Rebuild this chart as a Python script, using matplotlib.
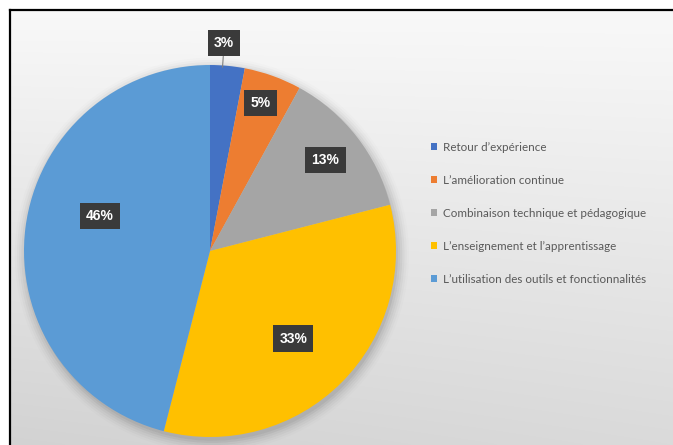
import numpy as np
import matplotlib
matplotlib.use("Agg")
import matplotlib.pyplot as plt

categories = ["Retour d\u2019expérience", "L\u2019amélioration continue",
              "Combinaison technique et pédagogique",
              "L\u2019enseignement et l\u2019apprentissage",
              "L\u2019utilisation des outils et fonctionnalités"]
values = [3, 5, 13, 33, 46]
colors = ["#4472C4", "#ED7D31", "#A5A5A5", "#FFC000", "#5B9BD5"]
label_r = [1.12, 0.84, 0.79, 0.65, 0.62]
label_shift = [1.5, 1.0, 0.5, -1.5, -10.5]   # degrees

W, H = 673, 445
fig = plt.figure(figsize=(W / 100, H / 100), dpi=100, facecolor="white")

# background gradient inside the frame
bg = fig.add_axes([10 / W, 0, 1 - 10 / W, (H - 10) / H])
yy, xx = np.mgrid[0:1:200j, 0:1:300j]
grad = 0.975 - 0.12 * yy - 0.03 * (1 - xx) * yy
bg.imshow(np.dstack([grad] * 3), aspect="auto", extent=(0, 1, 0, 1),
          origin="upper", interpolation="bilinear")
bg.axis("off")
fig.add_artist(plt.Line2D([9.5 / W, 1], [1 - 9.5 / H] * 2, color="black", lw=1.6))
fig.add_artist(plt.Line2D([9.5 / W] * 2, [0, 1 - 9.5 / H], color="black", lw=1.6))

cx, cy, R = 210, 251, 186
ax = fig.add_axes([(cx - R) / W, (H - cy - R) / H, 2 * R / W, 2 * R / H])

wedges, _ = ax.pie(values, colors=colors, startangle=90, counterclock=False,
                   radius=1.0, wedgeprops=dict(linewidth=0))
for w in wedges:
    w.set_zorder(2)
ax.set_xlim(-1.0, 1.0)
ax.set_ylim(-1.0, 1.0)
ax.axis("off")

# soft shadow under the pie
for k, a in enumerate(np.linspace(0.05, 0.01, 6)):
    ax.add_patch(plt.Circle((0.01, -0.02), 1.0 + 0.012 * k, color="black",
                            alpha=a, lw=0, zorder=0, clip_on=False))

for w, v, r, sh in zip(wedges, values, label_r, label_shift):
    ang = np.deg2rad((w.theta1 + w.theta2) / 2 + sh)
    pos = (r * np.cos(ang), r * np.sin(ang))
    box = dict(boxstyle="square,pad=0.45", fc="#3a3a3a", ec="none")
    kw = dict(ha="center", va="center", color="white", fontsize=10,
              fontweight="bold", family="Liberation Sans", bbox=box, zorder=5)
    if r > 1:
        ax.annotate(f"{v}%", xy=(np.cos(ang) * 0.99, np.sin(ang) * 0.99),
                    xytext=pos, annotation_clip=False,
                    arrowprops=dict(arrowstyle="-", color="#7f7f7f", lw=0.8,
                                    shrinkA=0, shrinkB=0), **kw)
    else:
        ax.text(*pos, f"{v}%", **kw)

leg = fig.legend(wedges, categories, loc="upper left",
                 bbox_to_anchor=(431 / W, 1 - 142 / H), frameon=False,
                 prop=dict(family="Lato", size=8.4), labelcolor="#595959",
                 handlelength=0.55, handleheight=0.55, handletextpad=0.45,
                 labelspacing=1.88, borderpad=0, borderaxespad=0)

fig.savefig("out.png", dpi=100, facecolor="white")
